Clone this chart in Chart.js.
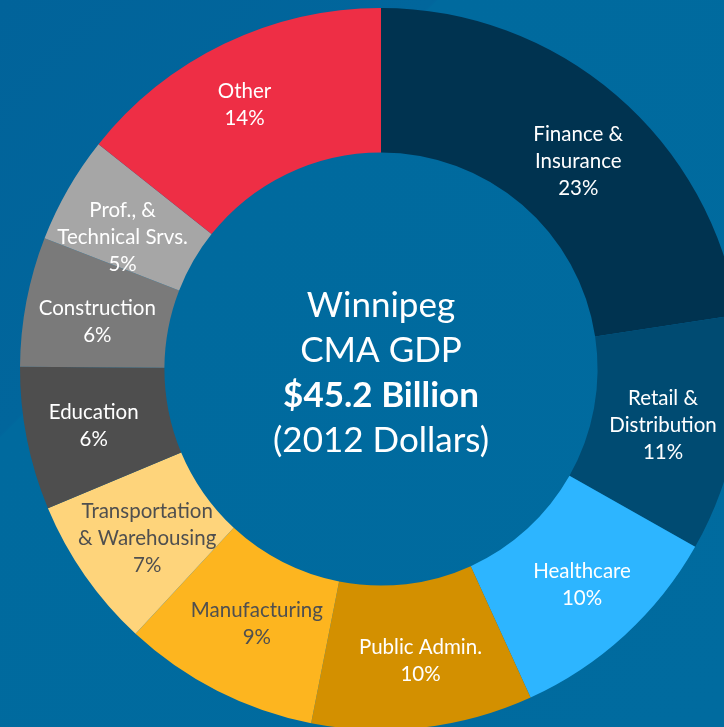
<!DOCTYPE html>
<html>
<head>
<meta charset="utf-8">
<script src="https://cdn.jsdelivr.net/npm/chart.js@4"></script>
<style>
  html, body { margin: 0; padding: 0; overflow: hidden; }
  body {
    width: 724px; height: 727px;
    background: linear-gradient(135deg, #01639a 0%, #01669c 30%, #006a9e 30.2%, #006b9f 100%);
  }
  .chart-box { position: absolute; left: 0; top: 0; width: 762px; height: 738px; }
</style>
</head>
<body>
<div class="chart-box"><canvas id="gdp-chart"></canvas></div>
<script>
const sectors = [
    ['Finance &', 'Insurance'],
    ['Retail &', 'Distribution'],
    ['Healthcare'],
    ['Public Admin.'],
    ['Manufacturing'],
    ['Transportation', '& Warehousing'],
    ['Education'],
    ['Construction'],
    ['Prof., &', 'Technical Srvs.'],
    ['Other']
];
// share of GDP in % (labels show them rounded)
const shares = [22.6, 10.6, 10.0, 9.9, 8.8, 6.8, 6.4, 5.8, 4.8, 14.3];
const centerLines = ['Winnipeg', 'CMA GDP', '$45.2 Billion', '(2012 Dollars)'];

const colors = ['#003350', '#004b72', '#2db5ff', '#d39000', '#fdb51f', '#fed47b', '#4e4e4e', '#7a7a7a', '#a6a6a6', '#ee2e45'];
const textColors = ['#fff', '#fff', '#fff', '#fff', '#4f4f4f', '#4f4f4f', '#fff', '#fff', '#fff', '#fff'];
// hand nudges so the labels sit like the original layout
const nudges = [[9, 11], [-2, 4], [6, 3], [6, 5], [7, -2], [3, 4], [-4, 1], [0, 7], [-8, 12], [-11, -4]];

const FONT = 'Lato, "Open Sans", sans-serif';

const sliceLabels = {
    id: 'sliceLabels',
    afterDatasetsDraw(chart) {
        const ctx = chart.ctx;
        const meta = chart.getDatasetMeta(0);
        ctx.save();
        ctx.font = `20.5px ${FONT}`;
        ctx.textAlign = 'center';
        ctx.textBaseline = 'middle';
        meta.data.forEach((arc, i) => {
            const p = arc.getCenterPoint();
            const lines = [...sectors[i], Math.round(shares[i]) + '%'];
            const lh = 27;
            const x = p.x + nudges[i][0];
            const y0 = p.y + nudges[i][1] - (lines.length - 1) * lh / 2;
            ctx.fillStyle = textColors[i];
            lines.forEach((t, k) => ctx.fillText(t, x, y0 + k * lh));
        });

        // centre text
        const cx = meta.data[0].x;
        const cy = meta.data[0].y;
        ctx.fillStyle = '#fff';
        const lh = 45;
        centerLines.forEach((t, k) => {
            ctx.font = (k === 2 ? 'bold ' : '') + `35px ${FONT}`;
            ctx.fillText(t, cx, cy - 63 + k * lh);
        });
        ctx.restore();
    }
};

new Chart(document.getElementById('gdp-chart'), {
    type: 'doughnut',
    data: {
        labels: sectors.map(s => s.join(' ')),
        datasets: [{
            data: shares,
            backgroundColor: colors,
            borderWidth: 0
        }]
    },
    options: {
        responsive: true,
        maintainAspectRatio: false,
        animation: false,
        cutout: '60%',
        layout: { padding: 8 },
        plugins: {
            legend: { display: false },
            tooltip: { enabled: false }
        }
    },
    plugins: [sliceLabels]
});
</script>
</body>
</html>
